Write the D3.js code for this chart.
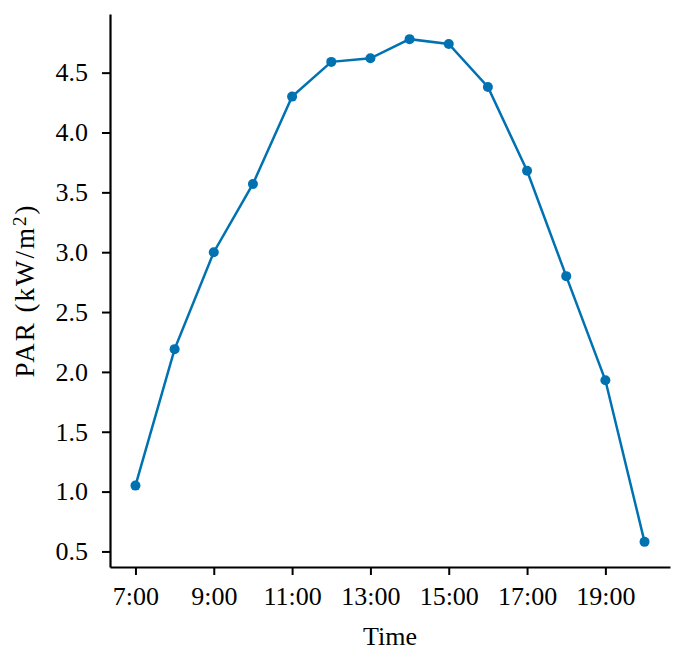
<!DOCTYPE html>
<html>
<head>
    <script src="https://d3js.org/d3.v7.min.js"></script>
    <style>
        body { margin: 0; background: #fff; }
        text { font-family: "Liberation Serif", "DejaVu Serif", serif; }
    </style>
</head>
<body>
    <div id="chart"></div>
    <script>
        // data
        const hours = [7, 8, 9, 10, 11, 12, 13, 14, 15, 16, 17, 18, 19, 20];
        const par = [1.05, 2.19, 3.0, 3.57, 4.30, 4.59, 4.62, 4.78, 4.74, 4.38, 3.68, 2.80, 1.93, 0.58];
        const xTicks = [7, 9, 11, 13, 15, 17, 19];
        const yTicks = [0.5, 1.0, 1.5, 2.0, 2.5, 3.0, 3.5, 4.0, 4.5];

        const W = 686, H = 657;
        const margin = { top: 14, right: 16, bottom: 90, left: 110 };
        const width = W - margin.left - margin.right,
            height = H - margin.top - margin.bottom;
        const fs = "26px";

        const svg = d3.select("#chart")
            .append("svg")
            .attr("width", W)
            .attr("height", H)
            .append("g")
            .attr("transform", `translate(${margin.left},${margin.top})`);

        // matplotlib-ish 5% margins
        const xPad = (20 - 7) * 0.05;
        const x = d3.scaleLinear().domain([7 - xPad, 20 + xPad]).range([0, width]);
        const yMin = d3.min(par), yMax = d3.max(par), yPad = (yMax - yMin) * 0.05;
        const y = d3.scaleLinear().domain([yMin - yPad, yMax + yPad]).range([height, 0]);

        const color = "#0072B2";

        // x axis
        const gx = svg.append("g")
            .attr("transform", `translate(0,${height})`)
            .call(d3.axisBottom(x).tickValues(xTicks).tickFormat(d => d + ":00").tickSize(8).tickPadding(12).tickSizeOuter(0));
        gx.select(".domain").attr("stroke-width", 2.2);
        gx.selectAll(".tick line").attr("stroke-width", 2);
        gx.selectAll("text").style("font-size", fs).attr("fill", "#000");

        // y axis
        const gy = svg.append("g")
            .call(d3.axisLeft(y).tickValues(yTicks).tickFormat(d3.format(".1f")).tickSize(8).tickPadding(14).tickSizeOuter(0));
        gy.select(".domain").attr("stroke-width", 2.2);
        gy.selectAll(".tick line").attr("stroke-width", 2);
        gy.selectAll("text").style("font-size", fs).attr("fill", "#000");

        // axis titles
        svg.append("text")
            .attr("x", width / 2)
            .attr("y", height + 78)
            .attr("text-anchor", "middle")
            .style("font-size", fs)
            .text("Time");

        const yt = svg.append("text")
            .attr("transform", `translate(${-76},${height / 2}) rotate(-90)`)
            .attr("text-anchor", "middle")
            .style("font-size", "27px")
            .style("letter-spacing", "2px");
        yt.append("tspan").text("PAR (kW/m");
        yt.append("tspan").attr("dy", "-0.4em").style("font-size", "19px").text("2");
        yt.append("tspan").attr("dy", "0.28em").text(")");

        // line + markers
        const pts = hours.map((h, i) => ({ h: h, v: par[i] }));
        svg.append("path")
            .datum(pts)
            .attr("fill", "none")
            .attr("stroke", color)
            .attr("stroke-width", 2.5)
            .attr("d", d3.line().x(d => x(d.h)).y(d => y(d.v)));

        svg.selectAll("circle")
            .data(pts)
            .enter().append("circle")
            .attr("cx", d => x(d.h))
            .attr("cy", d => y(d.v))
            .attr("r", 5)
            .attr("fill", color);
    </script>
</body>
</html>
